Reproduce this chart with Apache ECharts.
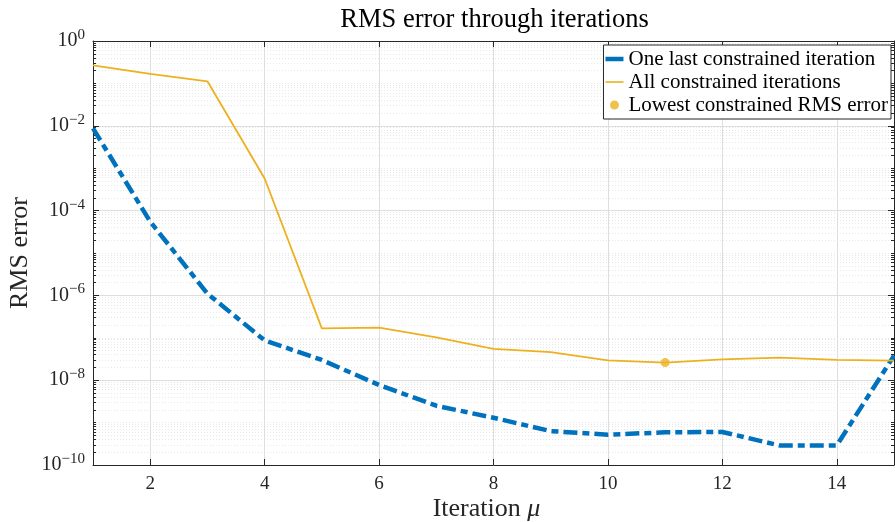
<!DOCTYPE html>
<html>
<head>
<meta charset="utf-8">
<script src="https://cdn.jsdelivr.net/npm/echarts@6/dist/echarts.min.js"></script>
<style>
  html, body { margin: 0; padding: 0; background: #fff; }
  #chart { width: 895px; height: 522px; }
</style>
</head>
<body>
<div id="chart"></div>
<script>
// iterations on the x axis
const iterations = [1, 2, 3, 4, 5, 6, 7, 8, 9, 10, 11, 12, 13, 14, 15]
// RMS error, one last constrained iteration (blue dash-dot)
const oneLastRms = [8.7e-3, 5.5e-5, 1.1e-6, 8.7e-8, 3.0e-8, 7.7e-9, 2.5e-9, 1.3e-9, 6.3e-10, 5.2e-10, 5.9e-10, 6.0e-10, 2.9e-10, 2.9e-10, 3.8e-8]
// RMS error, all constrained iterations (orange)
const allConstrainedRms = [0.267, 0.167, 0.112, 5.7e-4, 1.67e-7, 1.74e-7, 1.02e-7, 5.5e-8, 4.6e-8, 2.95e-8, 2.6e-8, 3.1e-8, 3.4e-8, 3.0e-8, 2.9e-8]
// lowest constrained point
const lowestIter = [11]
const lowestRms = [2.6e-8]
// tick values
const xTicks = [2, 4, 6, 8, 10, 12, 14]
const yExponents = [-10, -8, -6, -4, -2, 0]
const minorMultipliers = [2, 3, 4, 5, 6, 7, 8, 9]

const FONT = 'Liberation Serif'
const AXIS_COLOR = '#262626'
const BLUE = '#0072BD'
const ORANGE = '#EDB120'

const yMajor = yExponents.map(e => Math.pow(10, e))
const yMinor = []
for (let e = -10; e < 0; e++) {
  if (yExponents.indexOf(e) < 0) yMinor.push(Math.pow(10, e))
  minorMultipliers.forEach(m => yMinor.push(m * Math.pow(10, e)))
}

function supLabel(v) {
  const e = Math.round(Math.log10(v))
  return '{b|10}{s|' + (e < 0 ? '\u2212' + (-e) : e) + '}'
}

const chart = echarts.init(document.getElementById('chart'), null, { renderer: 'canvas' })

// shared settings for the four log y axes (left/right, major/minor)
function yAxisBase(extra) {
  return Object.assign({
    type: 'log',
    logBase: 10,
    min: 1e-10,
    max: 1,
    offset: 0,
    axisLine: { show: false },
    axisLabel: { show: false },
    splitLine: { show: false },
    axisTick: { show: false }
  }, extra)
}

chart.setOption({
  animation: false,
  backgroundColor: '#fff',
  title: {
    text: 'RMS error through iterations',
    left: 489.5,
    top: 2,
    textAlign: 'center',
    textStyle: { fontFamily: FONT, fontSize: 26.5, fontWeight: 'normal', color: '#000' }
  },
  legend: {
    orient: 'vertical',
    right: 4,
    top: 45,
    padding: [3, 3, 3, 2],
    itemGap: 1,
    itemWidth: 18,
    itemHeight: 9,
    backgroundColor: '#fff',
    borderColor: AXIS_COLOR,
    borderWidth: 1,
    borderRadius: 0,
    textStyle: { fontFamily: FONT, fontSize: 21, lineHeight: 22, color: '#000' },
    data: [
      { name: 'One last constrained iteration', icon: 'path://M0,0H18V4.5H0Z' },
      { name: 'All constrained iterations', icon: 'path://M0,0H18V1.6H0Z' },
      { name: 'Lowest constrained RMS error', icon: 'circle', itemStyle: { color: ORANGE } }
    ]
  },
  grid: { left: 93, right: 1, top: 41, bottom: 57, containLabel: false, outerBoundsMode: 'none' },
  xAxis: [
    {
      type: 'value',
      min: 1,
      max: 15,
      position: 'bottom',
      name: '{n|Iteration }{m|\u03bc}',
      nameLocation: 'middle',
      nameGap: 31,
      nameMoveOverlap: false,
      nameTextStyle: {
        padding: [0, 14, 0, 0],
        rich: {
          n: { fontFamily: FONT, fontSize: 26, color: '#262626' },
          m: { fontFamily: FONT, fontSize: 26, fontStyle: 'italic', color: '#262626' }
        }
      },
      axisLine: { show: true, onZero: false, lineStyle: { color: AXIS_COLOR, width: 1 } },
      axisTick: { show: true, inside: true, length: 6, customValues: xTicks, lineStyle: { color: AXIS_COLOR } },
      axisLabel: { customValues: xTicks, margin: 10, fontFamily: FONT, fontSize: 19, color: AXIS_COLOR },
      splitLine: { show: true, lineStyle: { color: '#dedede', width: 1 } }
    },
    {
      type: 'value',
      min: 1,
      max: 15,
      position: 'top',
      axisLine: { show: true, onZero: false, lineStyle: { color: AXIS_COLOR, width: 1 } },
      axisTick: { show: true, inside: true, length: 6, customValues: xTicks, lineStyle: { color: AXIS_COLOR } },
      axisLabel: { show: false },
      splitLine: { show: false }
    }
  ],
  yAxis: [
    yAxisBase({
      position: 'left',
      name: 'RMS error',
      nameLocation: 'middle',
      nameGap: 60,
      nameMoveOverlap: false,
      nameTextStyle: { fontFamily: FONT, fontSize: 26, color: AXIS_COLOR },
      axisLine: { show: true, lineStyle: { color: AXIS_COLOR, width: 1 } },
      axisTick: { show: true, inside: true, length: 6, customValues: yMajor, lineStyle: { color: AXIS_COLOR } },
      axisLabel: {
        show: true,
        customValues: yMajor,
        margin: 8,
        formatter: supLabel,
        rich: {
          b: { fontFamily: FONT, fontSize: 20, color: AXIS_COLOR, lineHeight: 27 },
          s: { fontFamily: FONT, fontSize: 15, color: AXIS_COLOR, verticalAlign: 'top', lineHeight: 15 }
        }
      },
      splitLine: { show: true, lineStyle: { color: '#dedede', width: 1 } }
    }),
    yAxisBase({
      position: 'left',
      axisTick: { show: true, inside: true, length: 3, customValues: yMinor, lineStyle: { color: AXIS_COLOR } },
      splitLine: { show: true, lineStyle: { color: '#e8e8e8', width: 1, type: [1, 2] } }
    }),
    yAxisBase({
      position: 'right',
      axisLine: { show: true, lineStyle: { color: AXIS_COLOR, width: 1 } },
      axisTick: { show: true, inside: true, length: 6, customValues: yMajor, lineStyle: { color: AXIS_COLOR } }
    }),
    yAxisBase({
      position: 'right',
      axisTick: { show: true, inside: true, length: 3, customValues: yMinor, lineStyle: { color: AXIS_COLOR } }
    })
  ],
  series: [
    {
      name: 'One last constrained iteration',
      type: 'line',
      xAxisIndex: 0,
      yAxisIndex: 0,
      data: iterations.map((x, i) => [x, oneLastRms[i]]),
      symbol: 'none',
      z: 3,
      itemStyle: { color: BLUE },
      lineStyle: { color: BLUE, width: 4.5, type: [14, 5, 7, 5] }
    },
    {
      name: 'All constrained iterations',
      type: 'line',
      xAxisIndex: 0,
      yAxisIndex: 0,
      data: iterations.map((x, i) => [x, allConstrainedRms[i]]),
      symbol: 'none',
      z: 4,
      itemStyle: { color: ORANGE },
      lineStyle: { color: ORANGE, width: 1.8 }
    },
    {
      name: 'Lowest constrained RMS error',
      type: 'scatter',
      xAxisIndex: 0,
      yAxisIndex: 0,
      data: lowestIter.map((x, i) => [x, lowestRms[i]]),
      symbol: 'circle',
      symbolSize: 9,
      z: 5,
      itemStyle: { color: ORANGE }
    }
  ]
})
</script>
</body>
</html>
